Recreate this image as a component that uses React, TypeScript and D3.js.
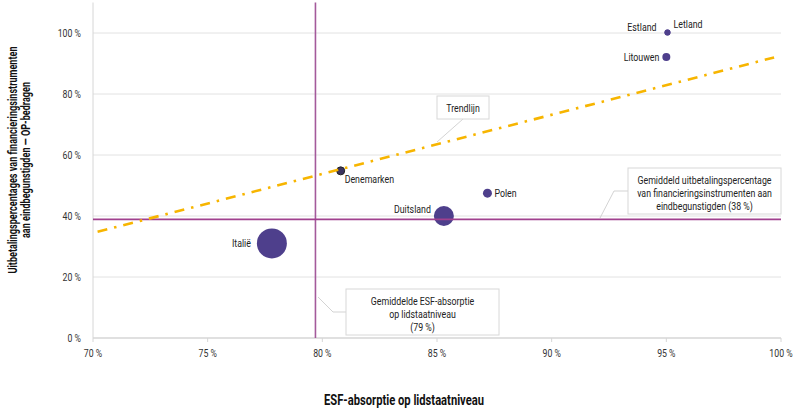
import React from "react";
import * as d3 from "d3";

const countries = ["Estland", "Letland", "Litouwen", "Denemarken", "Polen", "Duitsland", "Italië"];
const absorption = [95.05, 95.05, 95.0, 80.8, 87.2, 85.3, 77.8];
const payout = [100.2, 100.2, 92.1, 54.8, 47.5, 40.0, 31.0];
const bubbleRadius = [3, 3, 4, 4, 4.5, 10, 15];

const xTicks = [70, 75, 80, 85, 90, 95, 100];
const yTicks = [0, 20, 40, 60, 80, 100];
const trendX = [70.2, 99.7];
const trendY = [34.8, 92.0];
const avgAbsorption = 79.7;
const avgPayout = 38.9;

const FONT = "Roboto, 'Noto Sans', sans-serif";
const SX = 0.8;

type TP = { x: number; y: number; anchor?: string; size?: number; weight?: string; fill?: string; sx?: number; rotate?: number; children: React.ReactNode };
function T({ x, y, anchor = "start", size = 11, weight = "normal", fill = "#222", sx = SX, rotate = 0, children }: TP) {
  return (
    <g transform={`translate(${x},${y}) rotate(${rotate}) scale(${sx},1)`}>
      <text x={0} y={0} textAnchor={anchor as any} fontSize={size} fontWeight={weight} fill={fill} fontFamily={FONT}>{children}</text>
    </g>
  );
}

export default function App() {
  const W = 800, H = 410;
  const x = d3.scaleLinear().domain([70, 100]).range([93, 781]);
  const y = d3.scaleLinear().domain([0, 110]).range([338, 2.5]);
  const trendLine = d3.line<number>().x((d) => x(trendX[d])).y((d) => y(trendY[d]))([0, 1]) || "";

  const labelPos: Record<string, { dx: number; dy: number; anchor: string }> = {
    Estland: { dx: -11, dy: -1, anchor: "end" },
    Letland: { dx: 6, dy: -4, anchor: "start" },
    Litouwen: { dx: -7, dy: 4, anchor: "end" },
    Denemarken: { dx: 4, dy: 12, anchor: "start" },
    Polen: { dx: 7, dy: 4, anchor: "start" },
    Duitsland: { dx: -13, dy: -3, anchor: "end" },
    "Italië": { dx: -21, dy: 4, anchor: "end" },
  };

  return (
    <svg width={W} height={H} style={{ position: "absolute", left: 0, top: 0, background: "#fff" }} fontFamily={FONT}>
      {yTicks.map((t) => (
        <line key={"g" + t} x1={x(70)} x2={x(100)} y1={y(t)} y2={y(t)} stroke={t === 0 ? "#d6d6d6" : "#e2e2e2"} strokeWidth={t === 0 ? 1.5 : 1} />
      ))}
      <line x1={x(70)} x2={x(70)} y1={y(110)} y2={y(0)} stroke="#d6d6d6" strokeWidth={1} />
      {xTicks.map((t) => (
        <line key={"xt" + t} x1={x(t)} x2={x(t)} y1={y(0)} y2={y(0) + 4} stroke="#d6d6d6" />
      ))}
      {yTicks.map((t) => (
        <T key={"yl" + t} x={81} y={y(t) + 4} anchor="end" size={11.5} fill="#333" sx={0.76}>{t} %</T>
      ))}
      {xTicks.map((t) => (
        <T key={"xl" + t} x={x(t)} y={357} anchor="middle" size={11.5} fill="#333" sx={0.76}>{t} %</T>
      ))}
      {countries.map((c, i) => (
        <circle key={c} cx={x(absorption[i])} cy={y(payout[i])} r={bubbleRadius[i]} fill={c === "Denemarken" ? "#3a3360" : "#4e3f8c"} stroke={c === "Denemarken" ? "#222" : "none"} strokeWidth={1} />
      ))}
      <line x1={x(avgAbsorption)} x2={x(avgAbsorption)} y1={y(110)} y2={y(0)} stroke="#a45a9b" strokeWidth={1.6} />
      <line x1={x(70)} x2={x(100)} y1={y(avgPayout)} y2={y(avgPayout)} stroke="#a0408e" strokeWidth={1.6} />
      <path d={trendLine} fill="none" stroke="#f7b500" strokeWidth={2.6} strokeDasharray="10,7,2.5,7" />
      {countries.map((c, i) => {
        const p = labelPos[c];
        return (
          <T key={"l" + c} x={x(absorption[i]) + p.dx} y={y(payout[i]) + p.dy} anchor={p.anchor}>{c}</T>
        );
      })}
      <polyline points="463,119 437,142" fill="none" stroke="#c8c8c8" strokeWidth={0.8} />
      <rect x={437} y={96} width={52} height={23} fill="#fff" stroke="#d8d8d8" />
      <T x={463} y={112} anchor="middle">Trendlijn</T>
      <polyline points="629,191 614,191 600,218" fill="none" stroke="#c8c8c8" strokeWidth={0.8} />
      <rect x={628} y={168} width={153} height={46} fill="#fff" stroke="#d8d8d8" />
      <T x={704.5} y={184} anchor="middle">Gemiddeld uitbetalingspercentage</T>
      <T x={704.5} y={197} anchor="middle">van financieringsinstrumenten aan</T>
      <T x={704.5} y={210} anchor="middle">eindbegunstigden (38 %)</T>
      <polyline points="346,312 333,312 318,297" fill="none" stroke="#c8c8c8" strokeWidth={0.8} />
      <rect x={346} y={289} width={153} height={46} fill="#fff" stroke="#d8d8d8" />
      <T x={422.5} y={305} anchor="middle">Gemiddelde ESF-absorptie</T>
      <T x={422.5} y={318} anchor="middle">op lidstaatniveau</T>
      <T x={422.5} y={331} anchor="middle">(79 %)</T>
      <T x={404} y={405} anchor="middle" size={14} weight="bold" fill="#111" sx={0.8}>ESF-absorptie op lidstaatniveau</T>
      <T x={17} y={160} anchor="middle" size={13} weight="bold" fill="#111" sx={0.7} rotate={-90}>Uitbetalingspercentages van financieringsinstrumenten</T>
      <T x={30} y={160} anchor="middle" size={13} weight="bold" fill="#111" sx={0.7} rotate={-90}>aan eindbegunstigden — OP-bedragen</T>
    </svg>
  );
}
